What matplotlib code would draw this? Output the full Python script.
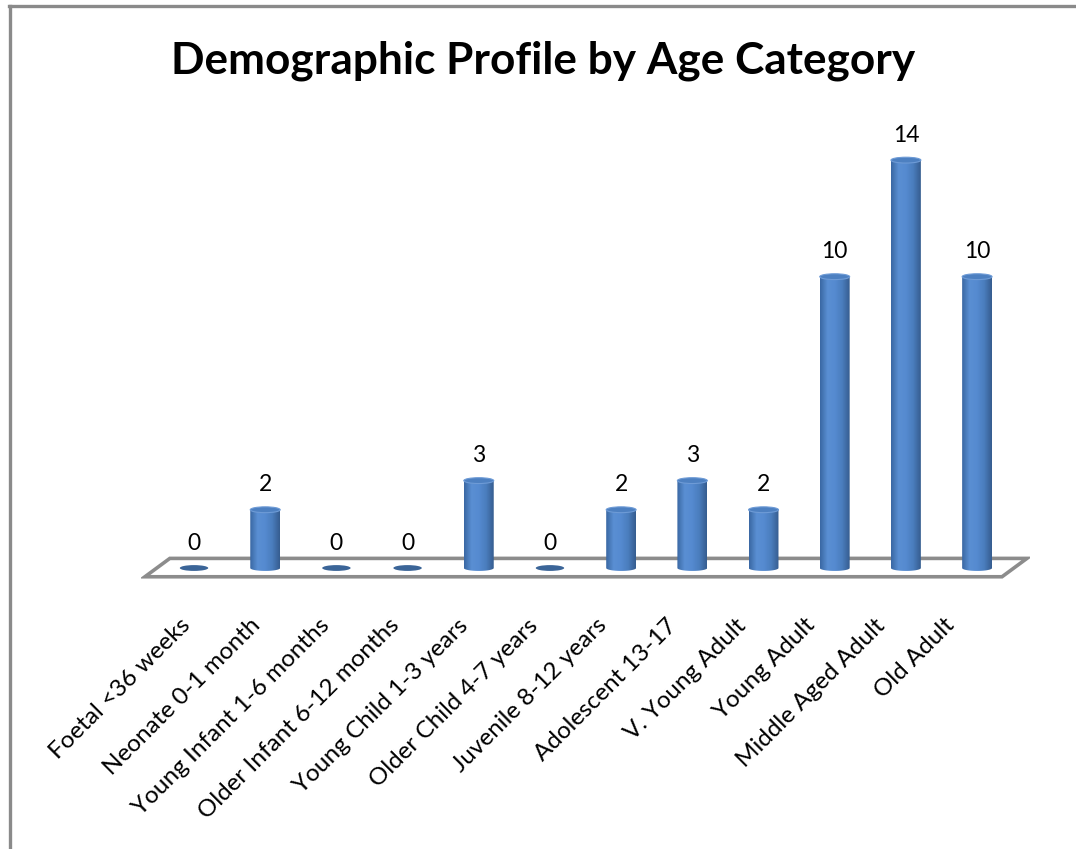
import matplotlib
matplotlib.use("Agg")
import matplotlib.pyplot as plt
import numpy as np
from matplotlib.colors import LinearSegmentedColormap
from matplotlib.lines import Line2D
from matplotlib.patches import Ellipse, PathPatch, Polygon
from matplotlib.path import Path
from matplotlib.transforms import offset_copy

plt.rcParams["font.family"] = ["Lato", "DejaVu Sans"]

# age categories and head counts
categories = [
    "Foetal <36 weeks",
    "Neonate 0-1 month",
    "Young Infant 1-6 months",
    "Older Infant 6-12 months",
    "Young Child 1-3 years",
    "Older Child 4-7 years",
    "Juvenile 8-12 years",
    "Adolescent 13-17",
    "V. Young Adult",
    "Young Adult",
    "Middle Aged Adult",
    "Old Adult",
]
counts = [0, 2, 0, 0, 3, 0, 2, 3, 2, 10, 14, 10]

title = "Demographic Profile by Age Category"

BAR_W = 0.42      # cylinder width in category units
CAP_H = 0.2       # ellipse height in value units
SIDE = LinearSegmentedColormap.from_list(
    "cyl", ["#3a68a3", "#5a8fd3", "#558ad0", "#4a7dbd", "#365d90"])

fig = plt.figure(figsize=(10.76, 8.49), dpi=100)
ax = fig.add_axes([0.1307, 0.3138, 0.8270, 0.5319])
ax.set_xlim(-0.75, len(categories) - 0.25)
ax.set_ylim(-0.5, 15)
ax.axis("off")

# floor of the 3d plot
n = len(categories)
floor = Polygon([(-0.69, -0.3), (n - 0.65, -0.3), (n - 0.3, 0.33), (-0.34, 0.33)],
                closed=True, facecolor="white", edgecolor="#8c8c8c", lw=2.6, zorder=1)
ax.add_patch(floor)

grad = SIDE(np.linspace(0, 1, 64))[None, :, :3]

for i, v in enumerate(counts):
    left, right = i - BAR_W / 2, i + BAR_W / 2
    if v > 0:
        # side of the cylinder: rectangle closed by the lower half of the base ellipse
        t = np.linspace(np.pi, 2 * np.pi, 40)
        arc = np.column_stack([i + BAR_W / 2 * np.cos(t), CAP_H / 2 * np.sin(t)])
        verts = np.vstack([[left, v], arc, [right, v], [left, v]])
        clip = PathPatch(Path(verts), facecolor="none", edgecolor="none",
                         transform=ax.transData)
        ax.add_patch(clip)
        im = ax.imshow(grad, extent=(left, right, -CAP_H / 2, v), aspect="auto",
                       interpolation="bilinear", zorder=2)
        im.set_clip_path(clip)
        ax.add_patch(Ellipse((i, v), BAR_W, CAP_H, facecolor="#4d80c1",
                             edgecolor="#6e9bd6", lw=0.8, zorder=3))
    else:
        ax.add_patch(Ellipse((i, 0), BAR_W * 0.95, CAP_H, facecolor="#3b6598",
                             edgecolor="none", zorder=2))
    ax.annotate(str(v), (i, v), xytext=(0, 18), textcoords="offset points",
                ha="center", va="center", fontsize=16.5, color="black")

# category labels, slanted along the front edge of the floor
for i, name in enumerate(categories):
    tr = offset_copy(ax.transData, fig=fig, x=-(14 + 1.8 * i) * 0.72, y=0, units="points")
    ax.text(i, -1.6, name, transform=tr, rotation=45, rotation_mode="anchor",
            ha="right", va="top", fontsize=17.5, color="black")

fig.text(0.505, 0.929, title, ha="center", va="center", fontsize=31.8,
         fontweight="bold", color="black")

# chart area border (left and top)
fig.add_artist(Line2D([0.0092, 0.0092], [0, 0.993], transform=fig.transFigure,
                      color="#8a8a8a", lw=2.4))
fig.add_artist(Line2D([0.0085, 1], [0.993, 0.993], transform=fig.transFigure,
                      color="#8a8a8a", lw=2.4))

fig.savefig("out.png", dpi=100)
